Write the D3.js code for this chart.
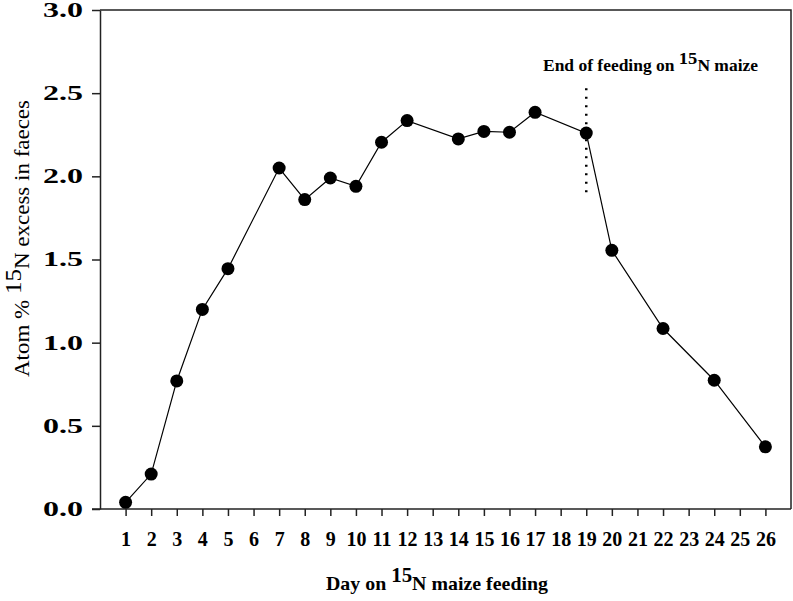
<!DOCTYPE html>
<html>
<head>
<meta charset="utf-8">
<script src="https://cdn.jsdelivr.net/npm/d3@7"></script>
<style>
    body { margin: 0; background: #fff; }
    text { font-family: "Liberation Serif", "DejaVu Serif", serif; fill: #000; }
</style>
</head>
<body>
<svg id="svg" width="793" height="601"></svg>
<script>
const DAYS = [1, 2, 3, 4, 5, 7, 8, 9, 10, 11, 12, 14, 15, 16, 17, 19, 20, 22, 24, 26];
const EXCESS = [0.04, 0.21, 0.77, 1.20, 1.445, 2.05, 1.86, 1.99, 1.94, 2.205, 2.335, 2.225, 2.27, 2.265, 2.385, 2.26, 1.555, 1.085, 0.774, 0.374];
//tick labels
const X_TICKS = d3.range(1, 27);
const Y_TICKS = [0, 0.5, 1.0, 1.5, 2.0, 2.5, 3.0];
//end of feeding marker
const END_DAY = 19;
const END_RANGE = [1.885, 2.53];

var svg = d3.select("#svg");

var scaleX = d3.scaleLinear()
        .domain([0, 27])
        .range([100, 791]);

var scaleY = d3.scaleLinear()
        .domain([0, 3])
        .range([509, 10]);

//frame: top and right edges
svg.append("path")
        .attr("d", "M" + scaleX(0) + "," + scaleY(3) + "H" + scaleX(27) + "V" + scaleY(0))
        .attr("fill", "none")
        .attr("stroke", "#222")
        .attr("stroke-width", 1.5);

//y axis
var yAxis = svg.append("g")
        .attr("transform", "translate(" + scaleX(0) + ",0)")
        .call(d3.axisLeft(scaleY).tickValues(Y_TICKS).tickSize(8).tickSizeOuter(0).tickFormat(d3.format(".1f")));
yAxis.selectAll("path, line").attr("stroke", "#222").attr("stroke-width", 1.5);
yAxis.selectAll("text")
        .attr("x", -57)
        .attr("text-anchor", "start")
        .attr("textLength", 40)
        .attr("lengthAdjust", "spacingAndGlyphs")
        .style("font-family", "Liberation Serif")
        .style("font-size", "20px")
        .style("font-weight", "bold");

//x axis
var xAxis = svg.append("g")
        .attr("transform", "translate(0," + scaleY(0) + ")")
        .call(d3.axisBottom(scaleX).tickValues(X_TICKS).tickSize(7).tickSizeOuter(0).tickFormat(d3.format("d")));
xAxis.select("path").attr("d", "M" + (scaleX(0) - 8) + ",0H" + scaleX(27));
xAxis.selectAll("path, line").attr("stroke", "#222").attr("stroke-width", 1.5);
xAxis.selectAll("text")
        .attr("y", 23)
        .style("font-family", "Liberation Serif")
        .style("font-size", "20px")
        .style("font-weight", "bold");

var data = DAYS.map((d, i) => ({day: d, value: EXCESS[i]}));

//line
svg.append("path")
        .datum(data)
        .attr("fill", "none")
        .attr("stroke", "#000")
        .attr("stroke-width", 1.2)
        .attr("d", d3.line().x(d => scaleX(d.day)).y(d => scaleY(d.value)));

//end of feeding dotted line
svg.append("line")
        .attr("x1", scaleX(END_DAY))
        .attr("x2", scaleX(END_DAY))
        .attr("y1", scaleY(END_RANGE[1]))
        .attr("y2", scaleY(END_RANGE[0]))
        .attr("stroke", "#000")
        .attr("stroke-width", 2.5)
        .attr("stroke-dasharray", "2,6.5");

//points
svg.selectAll("circle")
        .data(data)
        .enter()
        .append("circle")
        .attr("cx", d => scaleX(d.day))
        .attr("cy", d => scaleY(d.value))
        .attr("r", 6.5)
        .attr("fill", "#000");

//annotation
var note = svg.append("text")
        .attr("x", 543)
        .attr("y", 71)
        .style("font-size", "16px")
        .style("font-weight", "bold")
        .attr("textLength", 215)
        .attr("lengthAdjust", "spacingAndGlyphs");
note.append("tspan").text("End of feeding on ");
note.append("tspan").attr("dy", -7).style("font-size", "17px").text("15");
note.append("tspan").attr("dy", 7).text("N maize");

//x axis title
var xTitle = svg.append("text")
        .attr("x", 326)
        .attr("y", 590)
        .style("font-size", "19px")
        .style("font-weight", "bold")
        .attr("textLength", 222)
        .attr("lengthAdjust", "spacingAndGlyphs");
xTitle.append("tspan").text("Day on ");
xTitle.append("tspan").attr("dy", -8).style("font-size", "20px").text("15");
xTitle.append("tspan").attr("dy", 8).text("N maize feeding");

//y axis title
var yTitle = svg.append("text")
        .attr("transform", "translate(29,377) rotate(-90)")
        .style("font-size", "21px")
        .attr("textLength", 277)
        .attr("lengthAdjust", "spacingAndGlyphs");
yTitle.append("tspan").text("Atom % ");
yTitle.append("tspan").attr("dy", -8).style("font-size", "23px").text("15");
yTitle.append("tspan").attr("dy", 8).text("N excess in faeces");
</script>
</body>
</html>
